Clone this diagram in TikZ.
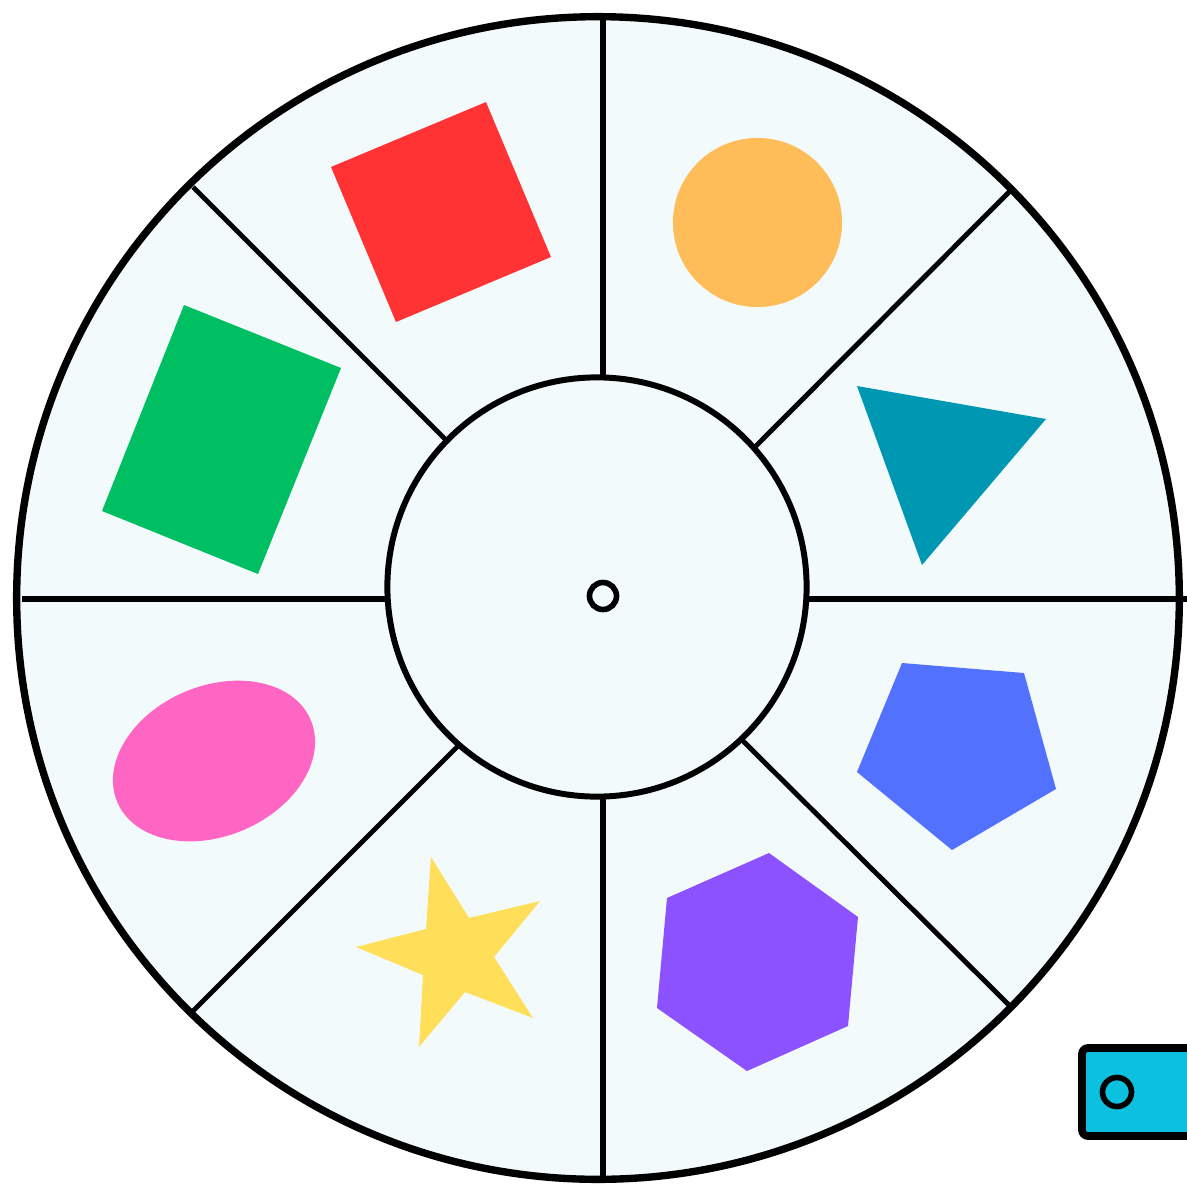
\documentclass[tikz,border=0pt]{standalone}
\usetikzlibrary{calc}
\definecolor{wheelbg}{HTML}{F2FAFC}
\definecolor{sqred}{HTML}{FF3333}
\definecolor{dotorange}{HTML}{FFBD59}
\definecolor{tritea}{HTML}{0097B2}
\definecolor{rectgreen}{HTML}{00BF63}
\definecolor{ovalpink}{HTML}{FF66C4}
\definecolor{staryellow}{HTML}{FFDE59}
\definecolor{pentblue}{HTML}{5271FF}
\definecolor{hexpurple}{HTML}{8C52FF}
\definecolor{boxcyan}{HTML}{0CC0DF}

\begin{document}
\begin{tikzpicture}[
        x=0.01cm, y=-0.01cm,
        rim/.style={draw=black, line width=2.1pt},
        hub/.style={draw=black, line width=1.7pt, fill=wheelbg},
        spoke/.style={draw=black, line width=1.8pt},
        divider/.style={draw=black, line width=1.4pt},
        pin/.style={draw=black, line width=1.6pt}
        ]

        \useasboundingbox (0,0) rectangle (1187,1187);

        \coordinate (wheel) at (598,598);
        \coordinate (hubc)  at (597,587);

        \fill[wheelbg] (wheel) circle [radius=5.81cm];

        \draw[spoke] (603,16)   -- (603,380);
        \draw[spoke] (603,794)  -- (603,1181);
        \draw[spoke] (22,599)   -- (390,599);
        \draw[spoke] (804,599)  -- (1187,599);
        \draw[divider] (193,187)  -- (447,441);
        \draw[divider] (1010,191) -- (754,448);
        \draw[divider] (192,1012) -- (460,744);
        \draw[divider] (741,739)  -- (1010,1006);

        \draw[hub] (hubc) circle [radius=2.095cm];
        \draw[pin] (603,596) circle [radius=0.135cm];
        \draw[rim] (wheel) circle [radius=5.81cm];

        \fill[sqred] (331,167) -- (486,102) -- (551,257) -- (396,322) -- cycle;
        \fill[dotorange] (757.5,222.5) circle [radius=0.845cm];
        \fill[tritea] (857,386) -- (1046,419) -- (922,565) -- cycle;
        \fill[rectgreen] (184,305) -- (341,368) -- (258,574) -- (102,511) -- cycle;
        \fill[ovalpink, rotate around={23:(214,761)}] (214,761) ellipse [x radius=1.05cm, y radius=0.75cm];
        \fill[staryellow] (431,857) -- (469,918) -- (540,901) -- (494,957) -- (533,1018)
            -- (465,992) -- (419,1047) -- (423,975) -- (356,947) -- (426,929) -- cycle;
        \fill[pentblue] (902,663) -- (1024,673) -- (1056,789) -- (952,850) -- (857,772) -- cycle;
        \fill[hexpurple] (769,853) -- (858,917) -- (848,1026) -- (747,1071) -- (657,1008) -- (667,898) -- cycle;

        \draw[line width=2.2pt, fill=boxcyan, rounded corners=0.06cm] (1082,1048) rectangle (1240,1136);
        \draw[pin] (1117,1092) circle [radius=0.145cm];

    \end{tikzpicture}
\end{document}
